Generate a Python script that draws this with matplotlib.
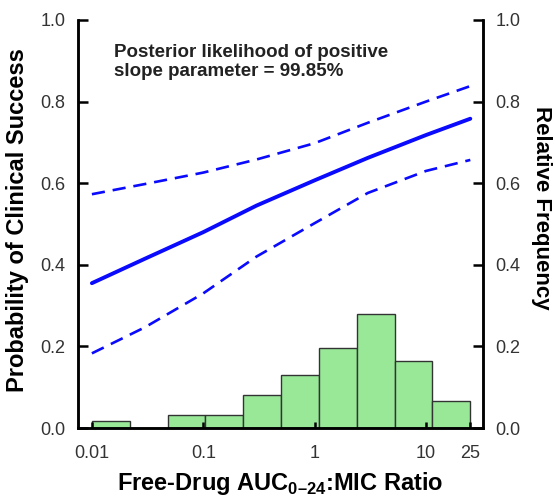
import numpy as np
import matplotlib
matplotlib.use('Agg')
import matplotlib.pyplot as plt

# ============================================================
# Data
# ============================================================

# Histogram of free-drug AUC:MIC ratios (counts per log-spaced bin)
bin_lo, bin_hi, n_bins = 0.01, 25, 10
bin_counts = [1, 0, 2, 2, 5, 8, 12, 17, 10, 4]

# Fitted probability of clinical success and its 95% band
ratio = [0.01, 0.03, 0.1, 0.3, 1, 3, 10, 25]
p_fit = [0.355, 0.415, 0.480, 0.545, 0.607, 0.662, 0.718, 0.758]
p_upper = [0.573, 0.598, 0.626, 0.658, 0.698, 0.748, 0.800, 0.838]
p_lower = [0.183, 0.247, 0.330, 0.420, 0.502, 0.576, 0.630, 0.657]

x_ticks = [0.01, 0.1, 1, 10, 25]
x_ticklabels = ['0.01', '0.1', '1', '10', '25']
y_ticks = [0.0, 0.2, 0.4, 0.6, 0.8, 1.0]

annotation = 'Posterior likelihood of positive\nslope parameter = 99.85%'

# ============================================================
# Figure
# ============================================================

plt.rcParams['font.family'] = ['Liberation Sans', 'DejaVu Sans']
plt.rcParams['mathtext.fontset'] = 'custom'
plt.rcParams['mathtext.rm'] = 'Liberation Sans'
plt.rcParams['mathtext.bf'] = 'Liberation Sans:bold'

fig = plt.figure(figsize=(5.55, 4.97), dpi=100)
ax = fig.add_axes([0.1405, 0.1388, 0.7295, 0.821])
ax2 = ax.twinx()

edges = np.logspace(np.log10(bin_lo), np.log10(bin_hi), n_bins + 1)
rel_freq = np.array(bin_counts) / sum(bin_counts)
ax2.bar(edges[:-1], rel_freq, width=np.diff(edges), align='edge',
        color='#98e898', edgecolor='#333333', linewidth=1.0, zorder=1)

blue = '#0a0aff'
ax.plot(ratio, p_fit, color=blue, lw=2.8, solid_capstyle='round',
        solid_joinstyle='round', zorder=3)
ax.plot(ratio, p_upper, color=blue, lw=1.9, dashes=(5, 3), zorder=3)
ax.plot(ratio, p_lower, color=blue, lw=1.9, dashes=(5, 3), zorder=3)
ax.set_zorder(ax2.get_zorder() + 1)
ax.patch.set_visible(False)

for a in (ax, ax2):
    a.set_xscale('log')
    a.set_xlim(0.0075, 32.4)
    a.set_ylim(0, 1.0)
    a.spines['top'].set_visible(False)
    for s in ('left', 'right', 'bottom'):
        a.spines[s].set_linewidth(1.8)

ax.set_xticks(x_ticks)
ax.set_xticklabels(x_ticklabels)
ax.xaxis.set_minor_locator(matplotlib.ticker.NullLocator())
ax2.xaxis.set_minor_locator(matplotlib.ticker.NullLocator())
ax.set_yticks(y_ticks)
ax.set_yticklabels([f'{v:.1f}' for v in y_ticks])
ax2.set_yticks(y_ticks)
ax2.set_yticklabels([f'{v:.1f}' for v in y_ticks])

ax.tick_params(axis='y', direction='in', length=7, width=1.8, pad=9,
               labelsize=13, labelcolor='#333333')
ax2.tick_params(axis='y', direction='in', length=7, width=1.8, pad=9,
                labelsize=13, labelcolor='#333333')
ax.tick_params(axis='x', direction='in', length=4, width=1.8, pad=12,
               labelsize=13, labelcolor='#333333')

ax.set_xlabel('Free-Drug AUC$_{\\mathbf{0\u201324}}$:MIC Ratio',
              fontsize=17, fontweight='bold', labelpad=6)
ax.set_ylabel('Probability of Clinical Success', fontsize=17,
              fontweight='bold')
ax.yaxis.set_label_coords(-0.12, 0.51)
ax2.set_ylabel('Relative Frequency', fontsize=16, fontweight='bold',
               rotation=-90, va='center')
ax2.yaxis.set_label_coords(1.145, 0.54)

ax.text(0.09, 0.94, annotation, transform=ax.transAxes, fontsize=13.5,
        fontweight='bold', color='#222222', va='top', ha='left',
        linespacing=1.15)

fig.savefig('out.png', dpi=100)
